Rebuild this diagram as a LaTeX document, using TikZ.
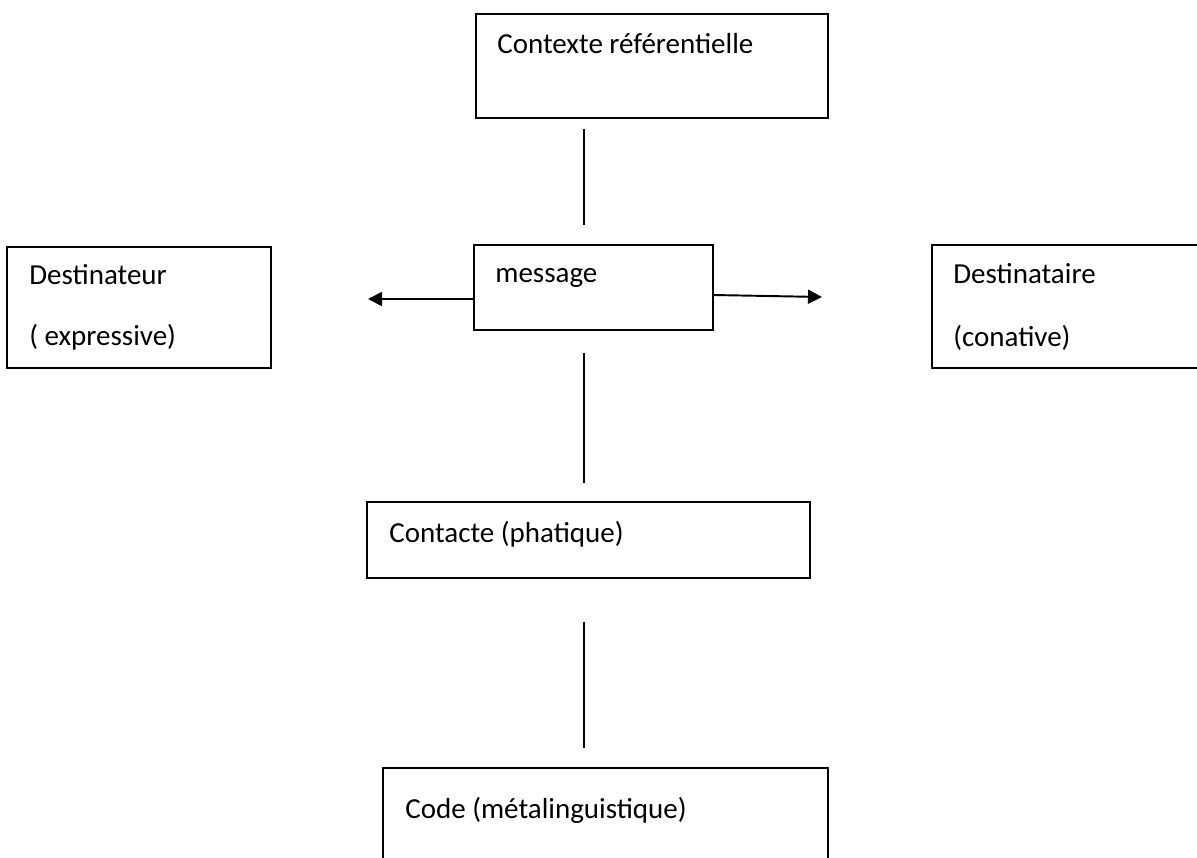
\documentclass[tikz,border=0pt]{standalone}
\usepackage{fontspec}
\setmainfont{Carlito}
\usepackage{tikz}
\usetikzlibrary{positioning}
\usetikzlibrary{arrows.meta}

\tikzset{
  box/.style={draw=black, line width=1.1pt, rectangle, inner sep=0pt, outer sep=0pt},
  txt/.style={anchor=base west, inner sep=0pt, font=\fontsize{16.5}{20}\selectfont},
  link/.style={black, line width=1.1pt},
  flow/.style={black, line width=1.1pt, -{Triangle[length=0.28cm,width=0.28cm]}}
}

\begin{document}
\begin{tikzpicture}[x=0.02cm, y=-0.02cm]

\useasboundingbox (0,0) rectangle (1197,858);
\clip (0,0) rectangle (1197,858);

% boxes
{
\node[box, minimum width=7.04cm, minimum height=2.08cm] (ctx) at (652,66) {};
\node[box, minimum width=4.78cm, minimum height=1.70cm] (msg) at (593.5,287.5) {};
\node[box, minimum width=5.28cm, minimum height=2.42cm] (dst) at (139,307.5) {};
\node[box, minimum width=5.66cm, minimum height=2.46cm] (dtr) at (1073.5,306.5) {};
\node[box, minimum width=8.86cm, minimum height=1.52cm] (cnt) at (588.5,540) {};
\node[box, minimum width=8.90cm, minimum height=2.24cm] (code) at (605.5,824) {};
}

% texts
\node[txt] (ctxtxt) at (497,54) {Contexte référentielle};
\node[txt] (msgtxt) at (495,283) {message};
\node[txt] (dsttxt) at (29,285) {Destinateur};
\node[txt] (dstfn) at (29,345) {( expressive)};
\node[txt] (dtrtxt) at (953,284) {Destinataire};
\node[txt] (dtrfn) at (953,346) {(conative)};
\node[txt] (cnttxt) at (389,542) {Contacte (phatique)};
\node[txt] (codetxt) at (405,818) {Code (métalinguistique)};

% vertical lines
\coordinate (axis) at (584,0);
\draw[link, shorten <=0.22cm, shorten >=0.40cm] (ctx.south -| axis) -- (msg.north -| axis);
\draw[link, xshift=0.04cm, shorten <=0.46cm, shorten >=0.38cm] (msg.south -| axis) -- (cnt.north -| axis);
\draw[link, shorten <=0.88cm, shorten >=0.40cm] (cnt.south -| axis) -- (code.north -| axis);

% arrows
\coordinate (lefttip) at (368,299);
\coordinate (righttip) at (822,297);
\draw[flow] (msg.west |- lefttip) -- (lefttip);
\draw[flow] ([yshift=-0.15cm]msg.east) -- (righttip);

\end{tikzpicture}
\end{document}
